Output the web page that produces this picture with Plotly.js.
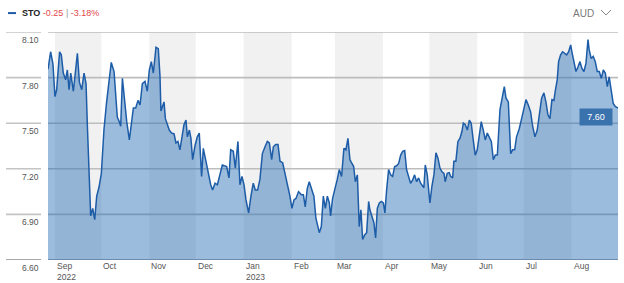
<!DOCTYPE html>
<html>
<head>
<meta charset="utf-8">
<script src="https://cdn.plot.ly/plotly-3.0.1.min.js"></script>
<style>
  html, body { margin: 0; padding: 0; background: #fff; }
  #chart { width: 624px; height: 283px; }
</style>
</head>
<body>
<div id="chart"></div>
<script>
// ---- data ----
const seriesStart = '2022-08-27T12:00:00Z';   // day offset 0
const dayOffset = [
  0.0,1.7,3.2,4.5,5.6,7.5,8.6,9.9,11.4,12.5,13.6,14.7,16.4,19.0,20.3,21.8,23.3,24.6,25.4,26.7,
  27.6,28.9,30.2,31.5,33.0,34.5,36.2,37.9,39.4,40.9,42.7,43.7,44.8,46.1,47.0,48.1,49.6,50.9,52.6,53.9,
  55.2,56.7,58.2,59.5,61.0,62.7,64.2,65.5,66.8,68.1,69.8,71.3,72.4,73.0,74.1,75.0,75.9,77.1,78.4,79.9,
  81.5,82.7,84.0,85.3,86.6,87.9,89.2,90.1,91.4,92.4,93.5,95.0,96.5,97.8,99.3,100.4,101.9,103.6,105.2,106.4,
  108.0,109.5,111.2,112.7,114.0,115.5,117.0,118.1,119.8,121.1,122.8,124.1,125.4,126.7,128.0,129.7,131.2,132.7,134.0,135.5,
  137.0,138.6,140.3,141.8,143.1,144.6,145.7,147.2,148.7,150.0,151.7,153.2,154.7,156.4,157.7,159.0,160.3,162.0,163.8,165.1,
  166.3,167.6,168.9,170.2,171.9,173.2,174.3,175.4,176.7,178.0,179.3,180.6,181.9,182.7,184.0,185.5,187.0,188.3,189.8,191.3,
  192.6,193.9,195.2,196.5,197.6,198.7,200.0,201.2,202.3,203.4,204.7,206.0,207.3,208.1,209.4,210.7,211.8,212.9,214.2,215.5,
  216.8,217.8,218.9,220.2,221.5,222.8,224.1,225.4,226.7,228.0,229.3,230.6,231.8,233.1,234.4,235.7,237.0,238.3,239.6,240.9,
  242.2,243.0,243.9,245.2,246.1,246.9,248.2,249.5,250.8,252.1,253.4,254.7,256.0,256.8,258.1,259.4,260.3,261.6,262.4,263.7,
  265.0,266.3,267.6,268.5,269.8,271.1,272.4,273.6,274.9,276.2,277.5,278.8,280.1,281.4,282.7,284.0,285.3,286.6,287.9,289.2,
  290.5,292.2,295.0,296.1,297.6,299.1,300.4,301.7,302.9,304.7,306.2,307.7,309.0,310.5,312.0,313.3,314.8,316.3,317.6,319.1,
  320.6,321.9,323.2,324.5,325.8,327.1,327.9,329.2,330.1,331.4,332.7,334.0,335.3,336.6,337.9,338.7,340.0,341.3,342.6,343.9,
  345.2,346.5,347.8,349.1,349.9,351.2,352.5,353.8,355.1,356.4,357.7,359.0,360.3,361.6,362.8,364.1,365.4,366.7,368.5
];
const price = [
  7.855,7.97,7.89,7.675,7.72,7.97,7.95,7.83,7.785,7.85,7.72,7.83,7.71,7.96,7.77,7.72,7.83,7.76,7.50,7.15,
  6.89,6.94,6.865,7.02,7.08,7.17,7.46,7.64,7.76,7.90,7.84,7.72,7.54,7.51,7.48,7.795,7.63,7.51,7.39,7.50,
  7.60,7.60,7.65,7.62,7.76,7.775,7.71,7.85,7.905,7.83,8.00,7.99,7.81,7.58,7.62,7.64,7.53,7.50,7.455,7.435,
  7.43,7.37,7.38,7.325,7.41,7.49,7.52,7.41,7.455,7.40,7.26,7.35,7.41,7.435,7.15,7.335,7.26,7.16,7.095,7.06,
  7.105,7.095,7.17,7.225,7.22,7.215,7.14,7.325,7.315,7.205,7.38,7.095,7.15,7.095,6.995,6.91,7.02,7.105,7.06,7.06,
  7.13,7.30,7.345,7.38,7.37,7.26,7.345,7.36,7.36,7.25,7.24,7.17,7.105,7.02,6.94,6.995,7.005,7.05,7.03,7.03,
  6.95,7.07,7.115,7.07,7.02,6.875,6.82,6.78,6.82,7.02,6.94,7.02,6.975,6.89,7.005,7.06,7.13,7.195,7.15,7.335,
  7.325,7.40,7.26,7.235,7.215,7.115,7.16,6.82,6.93,6.735,6.765,6.78,6.985,6.93,6.885,6.845,6.745,6.94,6.975,6.985,
  6.975,6.91,7.06,7.195,7.16,7.15,7.215,7.22,7.235,7.29,7.315,7.32,7.195,7.14,7.105,7.125,7.16,7.115,7.14,7.105,
  7.085,7.075,7.225,7.16,7.06,6.975,7.085,7.16,7.305,7.27,7.205,7.18,7.17,7.115,7.17,7.175,7.15,7.14,7.25,7.25,
  7.38,7.40,7.445,7.50,7.49,7.455,7.52,7.50,7.39,7.29,7.325,7.435,7.51,7.455,7.39,7.435,7.41,7.38,7.26,7.29,
  7.29,7.59,7.74,7.665,7.64,7.30,7.325,7.325,7.41,7.465,7.53,7.61,7.655,7.62,7.575,7.48,7.41,7.455,7.545,7.665,
  7.70,7.64,7.555,7.53,7.655,7.65,7.71,7.785,7.905,7.95,7.97,7.96,7.95,7.97,8.015,7.97,7.905,7.84,7.87,7.905,
  7.86,7.84,7.895,8.05,7.98,7.925,7.94,7.905,7.84,7.84,7.795,7.85,7.83,7.74,7.805,7.72,7.63,7.61,7.60
];
const yTicks = [6.60, 6.90, 7.20, 7.50, 7.80, 8.10];
const monthStarts = ['2022-09-01','2022-10-01','2022-11-01','2022-12-01','2023-01-01','2023-02-01',
                     '2023-03-01','2023-04-01','2023-05-01','2023-06-01','2023-07-01','2023-08-01','2023-09-01'];
const monthNames = ['Sep','Oct','Nov','Dec','Jan','Feb','Mar','Apr','May','Jun','Jul','Aug'];
const yearLabels = {0: '2022', 4: '2023'};
const ticker = 'STO', change = '-0.25', changePct = '-3.18%', currency = 'AUD';
const lastLabel = '7.60';

// ---- build ----
const t0 = Date.parse(seriesStart);
const dates = dayOffset.map(d => new Date(t0 + d * 864e5).toISOString().slice(0, 19).replace('T', ' '));

const FONT = '"Liberation Sans Narrow", "Arial Narrow", "Liberation Sans", Arial, sans-serif';
const LINE = '#1d5ca7';

const shapes = [];
// alternating month bands
for (let i = 0; i < monthNames.length; i++) {
  if (i % 2 === 0) {
    shapes.push({type: 'rect', layer: 'below', xref: 'x', yref: 'paper',
      x0: monthStarts[i], x1: monthStarts[i + 1], y0: 0, y1: 1,
      fillcolor: '#f1f1f1', line: {width: 0}});
  }
}
// horizontal grid lines (plot part + left label part)
yTicks.forEach(v => {
  shapes.push({type: 'line', layer: 'between', xref: 'paper', yref: 'y', x0: 0, x1: 1, y0: v, y1: v,
    line: {color: v === yTicks[0] ? '#8a8a8a' : '#bdbdbd', width: 1.6}});
  shapes.push({type: 'line', layer: 'above', xref: 'paper', yref: 'y', x0: -0.0737, x1: -0.0123, y0: v, y1: v,
    line: {color: v === yTicks[0] ? '#8a8a8a' : '#c4c4c4', width: 1.6}});
});
// legend dash in header
shapes.push({type: 'line', xref: 'paper', yref: 'paper', x0: -0.0702, x1: -0.0561, y0: 1.083, y1: 1.083,
  line: {color: LINE, width: 2}});
// currency chevron
shapes.push({type: 'path', xref: 'paper', yref: 'paper',
  path: 'M 0.9702 1.0965 L 0.9789 1.0746 L 0.9877 1.0965', line: {color: '#888', width: 1}});

const annotations = [];
monthNames.forEach((m, i) => {
  annotations.push({xref: 'x', yref: 'paper', x: monthStarts[i], y: 0, xanchor: 'left', yanchor: 'top',
    yshift: 1, xshift: 0, align: 'left', showarrow: false,
    text: yearLabels[i] ? m + '<br>' + yearLabels[i] : m,
    font: {family: FONT, size: 8.5, color: '#555'}});
});
yTicks.forEach(v => {
  annotations.push({xref: 'paper', yref: 'y', x: -0.0123, y: v, xanchor: 'right', yanchor: 'top',
    yshift: -1, showarrow: false, text: v.toFixed(2),
    font: {family: FONT, size: 8.5, color: '#555'}});
});
annotations.push({xref: 'paper', yref: 'paper', x: -0.0491, y: 1.083, xanchor: 'left', yanchor: 'middle',
  showarrow: false,
  text: '<b>' + ticker + '</b> <span style="color:#e2474b">' + change + '</span> <span style="color:#9a9a9a">|</span> <span style="color:#e2474b">' + changePct + '</span>',
  font: {family: FONT, size: 9, color: '#222'}});
annotations.push({xref: 'paper', yref: 'paper', x: 0.9175, y: 1.083, xanchor: 'left', yanchor: 'middle',
  showarrow: false, text: currency, font: {family: FONT, size: 10, color: '#7a7a7a'}});
annotations.push({xref: 'x', yref: 'y', x: dates[dates.length - 1], y: price[price.length - 1],
  xanchor: 'right', yanchor: 'top', xshift: -5, yshift: 0, showarrow: false,
  text: lastLabel, bgcolor: '#3a72ae', width: 30, height: 14, borderpad: 1,
  font: {family: FONT, size: 9, color: '#ffffff'}});

const trace = {
  type: 'scatter', mode: 'lines', x: dates, y: price,
  line: {color: LINE, width: 1.5},
  fill: 'tozeroy', fillcolor: 'rgba(40,110,180,0.46)',
  hoverinfo: 'skip'
};

const layout = {
  width: 624, height: 283,
  margin: {l: 48, r: 6, t: 32, b: 23, pad: 0},
  paper_bgcolor: '#ffffff', plot_bgcolor: '#ffffff',
  showlegend: false,
  xaxis: {type: 'date', range: [dates[0], dates[dates.length - 1]], showgrid: false, zeroline: false,
    showticklabels: false, ticks: '', showline: false, fixedrange: true},
  yaxis: {range: [yTicks[0], yTicks[yTicks.length - 1]], showgrid: false, zeroline: false,
    showticklabels: false, ticks: '', showline: false, fixedrange: true},
  shapes: shapes,
  annotations: annotations
};

Plotly.newPlot('chart', [trace], layout, {displayModeBar: false, staticPlot: true});
</script>
</body>
</html>
